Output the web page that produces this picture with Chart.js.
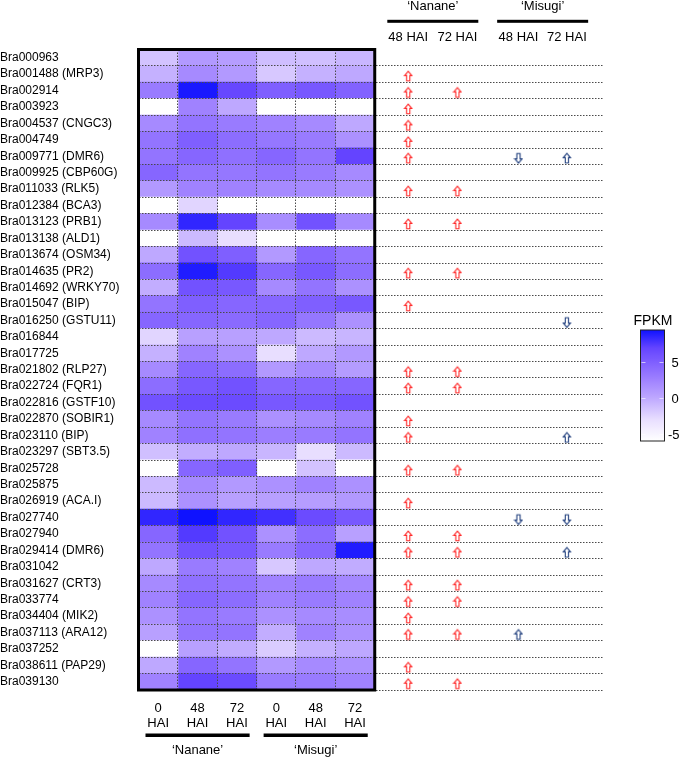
<!DOCTYPE html>
<html lang="en">
<head>
<meta charset="UTF-8">
<title>FPKM heatmap - Nanane / Misugi</title>
<style>
  html, body { margin: 0; padding: 0; background: #fff; }
  #wrap { position: relative; width: 685px; height: 758px; }
</style>
</head>
<body>
<div id="wrap"><canvas id="heat" width="685" height="758"></canvas></div>

<script src="https://cdn.jsdelivr.net/npm/chart.js"></script>
<script>
// ---- data ----
const genes = [
  'Bra000963', 'Bra001488 (MRP3)', 'Bra002914', 'Bra003923', 'Bra004537 (CNGC3)',
  'Bra004749', 'Bra009771 (DMR6)', 'Bra009925 (CBP60G)', 'Bra011033 (RLK5)', 'Bra012384 (BCA3)',
  'Bra013123 (PRB1)', 'Bra013138 (ALD1)', 'Bra013674 (OSM34)', 'Bra014635 (PR2)', 'Bra014692 (WRKY70)',
  'Bra015047 (BIP)', 'Bra016250 (GSTU11)', 'Bra016844', 'Bra017725', 'Bra021802 (RLP27)',
  'Bra022724 (FQR1)', 'Bra022816 (GSTF10)', 'Bra022870 (SOBIR1)', 'Bra023110 (BIP)', 'Bra023297 (SBT3.5)',
  'Bra025728', 'Bra025875', 'Bra026919 (ACA.I)', 'Bra027740', 'Bra027940',
  'Bra029414 (DMR6)', 'Bra031042', 'Bra031627 (CRT3)', 'Bra033774', 'Bra034404 (MIK2)',
  'Bra037113 (ARA12)', 'Bra037252', 'Bra038611 (PAP29)', 'Bra039130'
];

const colLabels = [['0', 'HAI'], ['48', 'HAI'], ['72', 'HAI'], ['0', 'HAI'], ['48', 'HAI'], ['72', 'HAI']];
const groups = ['\u2018Nanane\u2019', '\u2018Misugi\u2019'];

// FPKM (log scale), one array per column; -7 = not expressed (white)
const nanane0 = [-1.5, -0.5, 3, -7, 2, 3.5, 3.5, 4.5, 1, -7, 2, -7, 0, 4, -0.3, 3.5, 4.5, -2.5, -0.5, 2,
                 4, 6, 2, 2.5, -1.3, -7, -1, -1, 8.5, 4.5, 3.5, 0, 2, 2.5, 1.5, 0.5, -7, 0, 2.5];
const nanane48 = [1, 2, 9.2, 2.5, 3.5, 5, 4.5, 3.5, 2.5, -2.5, 8.5, -1, 6, 9, 6, 5, 4.5, 0.5, 2.5, 4.5,
                  5.5, 6.5, 3.5, 3.8, -0.3, 4.5, 2, 1.5, 9.5, 7.5, 6, 3, 3.8, 4.5, 3.5, 3.5, 0.5, 4.5, 7];
const nanane72 = [0.7, 1, 6.8, 0, 3, 4, 3.8, 3.3, 2.5, -7, 7, -3, 5, 7.5, 5.5, 4.5, 4.2, 0.5, 1.5, 4,
                  6, 6.5, 3, 3.5, 0, 5, 1, 0.5, 8.5, 6, 5.5, 2.5, 3.5, 4, 3, 3.5, -0.2, 3.5, 6.5];
const misugi0 = [-1.2, -1.8, 5, -7, 2.5, 3.3, 4.5, 3.5, 2, -7, 1.8, -7, 1, 4.5, 2, 4.5, 4.5, 0, -3, 1,
                 4.5, 5.5, 1.5, 2.8, -0.8, -7, 1.5, 0.5, 8, 1.5, 3, -1.8, 2.5, 2.5, 1.5, -0.3, -2, 1, 3];
const misugi48 = [-1.3, -0.5, 5.5, -7, 2, 3, 3.5, 3, 2, -7, 6, -7, 4.5, 5.5, 3.5, 5, 3.3, -1, 0, 2,
                  4.5, 5.5, 2, 3, -3, -1.5, 2.5, 0.7, 6.5, 4, 4.5, 0, 3, 3, 2, 2.5, -0.5, 2, 3];
const misugi72 = [-0.8, 0, 4.8, -7, 0, 1.5, 7, 2, 1.5, -7, 2, -7, 3.5, 4, 1.5, 5.5, 1.5, -0.7, 1, 0.8,
                  4.5, 6, 2.5, 3.5, -1, -7, 1.5, 1, 5.5, 0.5, 9, -0.2, 2.2, 2.5, 1.8, 1.5, 0, 1.5, 2.5];
const columns = [nanane0, nanane48, nanane72, misugi0, misugi48, misugi72];

// regulation arrows: 1 = up, -1 = down, 0 = none
const arrowLabels = ['48 HAI', '72 HAI', '48 HAI', '72 HAI'];
const nanane48Arrow = [0, 1, 1, 1, 1, 1, 1, 0, 1, 0,  1, 0, 0, 1, 0, 1, 0, 0, 0, 1,
                       1, 0, 1, 1, 0, 1, 0, 1, 0, 1,  1, 0, 1, 1, 1, 1, 0, 1, 1];
const nanane72Arrow = [0, 0, 1, 0, 0, 0, 0, 0, 1, 0,  1, 0, 0, 1, 0, 0, 0, 0, 0, 1,
                       1, 0, 0, 0, 0, 1, 0, 0, 0, 1,  1, 0, 1, 1, 0, 1, 0, 0, 1];
const misugi48Arrow = [0, 0, 0, 0, 0, 0, -1, 0, 0, 0,  0, 0, 0, 0, 0, 0, 0, 0, 0, 0,
                       0, 0, 0, 0, 0, 0, 0, 0, -1, 0,  0, 0, 0, 0, 0, 1, 0, 0, 0];
const misugi72Arrow = [0, 0, 0, 0, 0, 0, 1, 0, 0, 0,  0, 0, 0, 0, 0, 0, -1, 0, 0, 0,
                       0, 0, 0, 1, 0, 0, 0, 0, -1, 0,  1, 0, 0, 0, 0, 0, 0, 0, 0];
const arrowCols = [nanane48Arrow, nanane72Arrow, misugi48Arrow, misugi72Arrow];

const legendTicks = [5, 0, -5];

// ---- layout / style ----
const FONT = 'Arial, "Liberation Sans", Helvetica, sans-serif';
const X_MAX = 11.79;                        // heatmap = 0..6, arrow panel to the right
const arrowColX = [6.85, 8.10, 9.65, 10.88];
const arrowColors = ['#ff2a2a', '#ff2a2a', '#22407e', '#22407e'];
const dotColor = '#4a4a4a';
const scaleMin = -6, scaleMax = 9.5;
const colorStops = [
  [-6, [255, 255, 255]], [-3, [232, 222, 255]], [0, [190, 168, 255]], [2.5, [160, 130, 255]],
  [5, [127, 95, 255]], [7, [100, 68, 255]], [9.5, [15, 18, 255]]
];

function fpkmColor(v) {
  if (v <= colorStops[0][0]) return 'rgb(255,255,255)';
  for (let i = 1; i < colorStops.length; i++) {
    const [v1, c1] = colorStops[i];
    const [v0, c0] = colorStops[i - 1];
    if (v <= v1) {
      const t = (v - v0) / (v1 - v0);
      const c = c0.map((k, j) => Math.round(k + (c1[j] - k) * t));
      return `rgb(${c[0]},${c[1]},${c[2]})`;
    }
  }
  const c = colorStops[colorStops.length - 1][1];
  return `rgb(${c[0]},${c[1]},${c[2]})`;
}

function arrowImage(color, dir) {
  const c = document.createElement('canvas');
  c.width = 10; c.height = 16;
  const g = c.getContext('2d');
  if (dir < 0) { g.translate(0, 20); g.scale(1, -1); }
  g.beginPath();
  g.moveTo(5, 5.2);
  g.lineTo(8.6, 9.4);
  g.lineTo(6.6, 9.4);
  g.lineTo(6.6, 14.8);
  g.lineTo(3.4, 14.8);
  g.lineTo(3.4, 9.4);
  g.lineTo(1.4, 9.4);
  g.closePath();
  g.fillStyle = '#fff';
  g.fill();
  g.lineWidth = 1.1;
  g.strokeStyle = color;
  g.stroke();
  return c;
}

// ---- datasets ----
const heatSets = columns.map((vals, c) => ({
  type: 'bar',
  data: genes.map((gname, i) => ({ y: gname, x: [c, c + 1], fpkm: vals[i] })),
  backgroundColor: ctx => fpkmColor(ctx.raw.fpkm),
  borderWidth: 0,
  inflateAmount: 0.5,
  grouped: false,
  barPercentage: 1,
  categoryPercentage: 1
}));

const arrowSets = arrowCols.map((codes, c) => {
  const up = arrowImage(arrowColors[c], 1);
  const down = arrowImage(arrowColors[c], -1);
  return {
    type: 'scatter',
    data: genes.map((gname, i) => ({ x: arrowColX[c], y: gname, dir: codes[i] }))
               .filter(p => p.dir !== 0),
    pointStyle: ctx => (ctx.raw && ctx.raw.dir < 0 ? down : up),
    showLine: false
  };
});

// ---- extra drawing: frame, group bars, header, colour key ----
const decor = {
  id: 'decor',
  afterDraw(chart) {
    const { ctx, chartArea: a, scales: { x } } = chart;
    ctx.save();
    ctx.fillStyle = '#000';
    ctx.strokeStyle = '#000';

    // heatmap frame
    const xl = x.getPixelForValue(0), xr = x.getPixelForValue(colLabels.length);
    ctx.lineWidth = 3;
    ctx.strokeRect(xl, a.top, xr - xl, a.bottom - a.top);

    ctx.font = '13px ' + FONT;
    ctx.textAlign = 'center';
    ctx.textBaseline = 'alphabetic';

    // bottom group bars + names
    groups.forEach((name, g) => {
      const x0 = x.getPixelForValue(g * 3) + 7;
      const x1 = x.getPixelForValue(g * 3 + 3) - 7;
      ctx.fillRect(x0, 733.5, x1 - x0, 3.5);
      ctx.fillText(name, (x0 + x1) / 2, 753.5);
    });

    // top header over the arrow columns
    groups.forEach((name, g) => {
      const p0 = x.getPixelForValue(arrowColX[g * 2]);
      const p1 = x.getPixelForValue(arrowColX[g * 2 + 1]);
      const mid = (p0 + p1) / 2;
      ctx.fillRect(mid - 45.5, 19.8, 91, 3);
      ctx.fillText(name, mid, 9.5);
    });
    arrowLabels.forEach((lab, c) => {
      ctx.fillText(lab, x.getPixelForValue(arrowColX[c]), 40.5);
    });

    // colour key
    const kx = 640.5, kw = 24, ky0 = 330, ky1 = 441;
    const grad = ctx.createLinearGradient(0, ky0, 0, ky1);
    for (let k = 0; k <= 31; k++) {
      const v = scaleMax - (scaleMax - scaleMin) * k / 31;
      grad.addColorStop(k / 31, fpkmColor(v));
    }
    ctx.fillStyle = grad;
    ctx.fillRect(kx, ky0, kw, ky1 - ky0);
    ctx.lineWidth = 1;
    ctx.strokeStyle = '#222';
    ctx.strokeRect(kx, ky0, kw, ky1 - ky0);

    const vy = v => ky0 + (scaleMax - v) / (scaleMax - scaleMin) * (ky1 - ky0);
    ctx.strokeStyle = 'rgba(255,255,255,0.6)';
    legendTicks.forEach(v => {
      const yy = Math.round(vy(v)) + 0.5;
      ctx.beginPath();
      ctx.moveTo(kx + 1, yy); ctx.lineTo(kx + 5, yy);
      ctx.moveTo(kx + kw - 5, yy); ctx.lineTo(kx + kw - 1, yy);
      ctx.stroke();
    });

    ctx.fillStyle = '#000';
    ctx.font = '14px ' + FONT;
    ctx.textAlign = 'center';
    ctx.fillText('FPKM', 653, 325);
    ctx.font = '13px ' + FONT;
    ctx.textAlign = 'left';
    legendTicks.forEach(v => {
      ctx.fillText(String(v), v < 0 ? 668 : 671.5, vy(v) + 4.7);
    });
    ctx.restore();
  }
};

new Chart(document.getElementById('heat'), {
  type: 'bar',
  data: { labels: genes, datasets: [...heatSets, ...arrowSets] },
  options: {
    indexAxis: 'y',
    responsive: false,
    animation: false,
    events: [],
    layout: { padding: { top: 49.5, right: 82.3, bottom: 0, left: 0 } },
    plugins: { legend: { display: false }, tooltip: { enabled: false } },
    scales: {
      x: {
        type: 'linear',
        min: 0,
        max: X_MAX,
        afterBuildTicks: scale => {
          const t = [];
          for (let v = 0; v <= colLabels.length; v += 0.5) t.push({ value: v });
          scale.ticks = t;
        },
        afterFit: scale => { scale.height = 68; },
        grid: {
          z: 1,
          drawTicks: false,
          lineWidth: 1,
          color: ctx => {
            const v = ctx.tick ? ctx.tick.value : -1;
            return (Number.isInteger(v) && v > 0 && v < colLabels.length) ? dotColor : 'rgba(0,0,0,0)';
          }
        },
        border: { display: false, dash: [1.5, 1.5] },
        ticks: {
          autoSkip: false,
          maxRotation: 0,
          padding: 10.5,
          color: '#000',
          font: { family: FONT, size: 13, lineHeight: 1.15 },
          callback: v => (Number.isInteger(v) ? '' : colLabels[Math.floor(v)])
        }
      },
      y: {
        type: 'category',
        afterFit: scale => { scale.width = 138.5; },
        grid: {
          z: 1,
          offset: true,
          drawTicks: false,
          lineWidth: 1,
          color: ctx => (ctx.index === 0 ? 'rgba(0,0,0,0)' : dotColor)
        },
        border: { display: false, dash: [1.5, 1.5] },
        ticks: {
          autoSkip: false,
          crossAlign: 'far',
          color: '#000',
          font: { family: FONT, size: 12 }
        }
      }
    }
  },
  plugins: [decor]
});
</script>
</body>
</html>
